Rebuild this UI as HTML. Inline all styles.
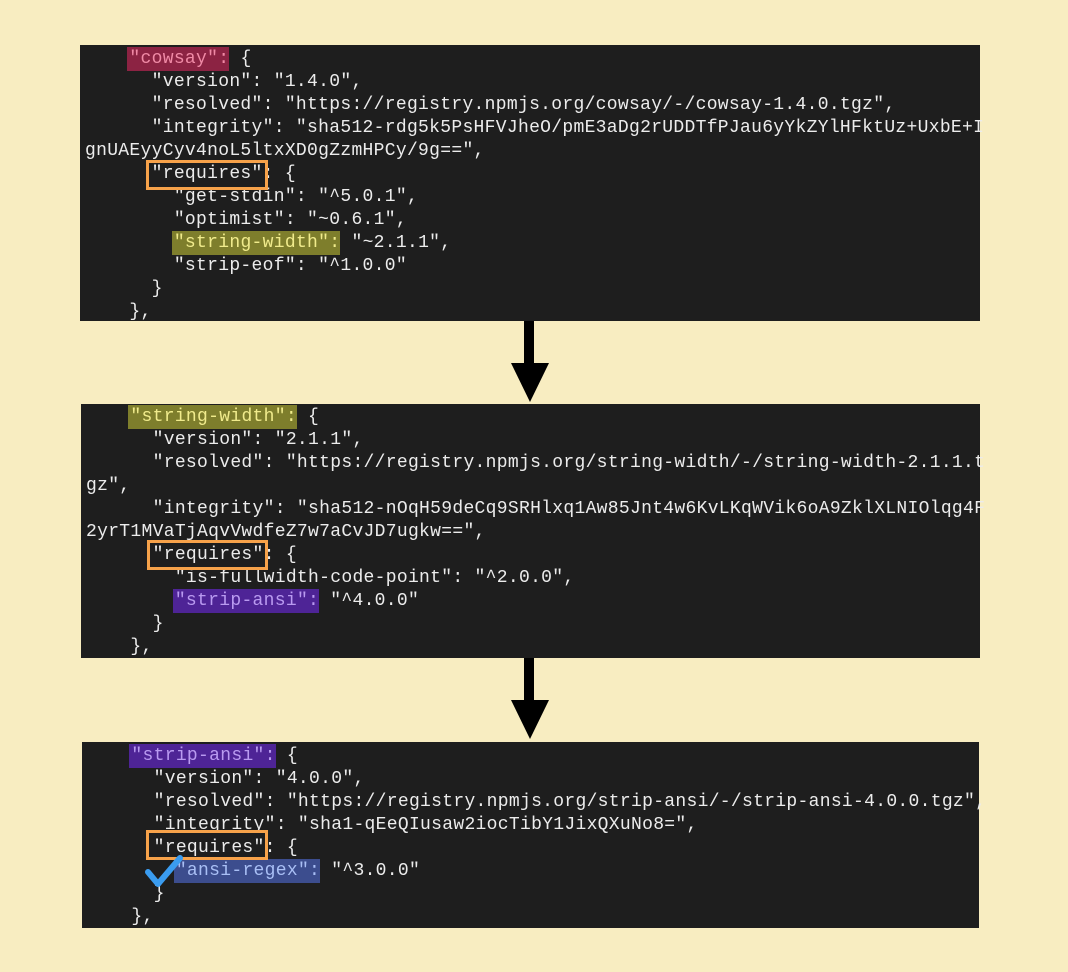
<!DOCTYPE html>
<html><head><style>
html,body{margin:0;padding:0}
body{width:1068px;height:972px;background:#f8edc1;position:relative;overflow:hidden;font-family:"Liberation Mono",monospace}
.p{position:absolute;background:#1e1e1e}
.l{position:absolute;left:5px;margin-top:3px;white-space:pre;color:#ececec;font-size:18px;letter-spacing:0.3px;line-height:23px;height:23px}
.hl{padding:2px 0 2px 2px;margin-left:-2px}
.c{background:#8c2343;color:#f08aa6}
.s{background:#7e7e2c;color:#f0eb8c}
.a{background:#4e2496;color:#b99af0}
.r{background:#3c4d8e;color:#a9bff5}
.ob{position:absolute;border:3px solid #f7a24a;box-sizing:border-box}
.sh{position:absolute;background:#000;width:10px}
.hd{position:absolute;width:0;height:0;border-left:19px solid transparent;border-right:19px solid transparent;border-top:39px solid #000}
</style></head><body>
<div class="p" style="left:80px;top:45px;width:900px;height:276px">
<div class="l" style="top:0px">    <span class="hl c">"cowsay":</span> {</div>
<div class="l" style="top:23px">      "version": "1.4.0",</div>
<div class="l" style="top:46px">      "resolved": "https://registry.npmjs.org/cowsay/-/cowsay-1.4.0.tgz",</div>
<div class="l" style="top:69px">      "integrity": "sha512-rdg5k5PsHFVJheO/pmE3aDg2rUDDTfPJau6yYkZYlHFktUz+UxbE+I</div>
<div class="l" style="top:92px">gnUAEyyCyv4noL5ltxXD0gZzmHPCy/9g==",</div>
<div class="l" style="top:115px">      "requires": {</div>
<div class="l" style="top:138px">        "get-stdin": "^5.0.1",</div>
<div class="l" style="top:161px">        "optimist": "~0.6.1",</div>
<div class="l" style="top:184px">        <span class="hl s">"string-width":</span> "~2.1.1",</div>
<div class="l" style="top:207px">        "strip-eof": "^1.0.0"</div>
<div class="l" style="top:230px">      }</div>
<div class="l" style="top:253px">    },</div>
</div>
<div class="ob" style="left:146px;top:160px;width:122px;height:30px"></div>
<div class="sh" style="left:524px;top:321px;height:44px"></div>
<div class="hd" style="left:511px;top:363px"></div>

<div class="p" style="left:81px;top:404px;width:899px;height:254px">
<div class="l" style="top:-1px">    <span class="hl s">"string-width":</span> {</div>
<div class="l" style="top:22px">      "version": "2.1.1",</div>
<div class="l" style="top:45px">      "resolved": "https://registry.npmjs.org/string-width/-/string-width-2.1.1.t</div>
<div class="l" style="top:68px">gz",</div>
<div class="l" style="top:91px">      "integrity": "sha512-nOqH59deCq9SRHlxq1Aw85Jnt4w6KvLKqWVik6oA9ZklXLNIOlqg4F</div>
<div class="l" style="top:114px">2yrT1MVaTjAqvVwdfeZ7w7aCvJD7ugkw==",</div>
<div class="l" style="top:137px">      "requires": {</div>
<div class="l" style="top:160px">        "is-fullwidth-code-point": "^2.0.0",</div>
<div class="l" style="top:183px">        <span class="hl a">"strip-ansi":</span> "^4.0.0"</div>
<div class="l" style="top:206px">      }</div>
<div class="l" style="top:229px">    },</div>
</div>
<div class="ob" style="left:147px;top:540px;width:121px;height:30px"></div>
<div class="sh" style="left:524px;top:658px;height:44px"></div>
<div class="hd" style="left:511px;top:700px"></div>

<div class="p" style="left:82px;top:742px;width:897px;height:186px">
<div class="l" style="top:0px">    <span class="hl a">"strip-ansi":</span> {</div>
<div class="l" style="top:23px">      "version": "4.0.0",</div>
<div class="l" style="top:46px">      "resolved": "https://registry.npmjs.org/strip-ansi/-/strip-ansi-4.0.0.tgz",</div>
<div class="l" style="top:69px">      "integrity": "sha1-qEeQIusaw2iocTibY1JixQXuNo8=",</div>
<div class="l" style="top:92px">      "requires": {</div>
<div class="l" style="top:115px">        <span class="hl r">"ansi-regex":</span> "^3.0.0"</div>
<div class="l" style="top:138px">      }</div>
<div class="l" style="top:161px">    },</div>
</div>
<div class="ob" style="left:146px;top:830px;width:122px;height:30px"></div>
<svg style="position:absolute;left:140px;top:852px" width="45" height="40"><path d="M8 20 L18 32 L40 6" fill="none" stroke="#3a9cf0" stroke-width="6" stroke-linecap="round" stroke-linejoin="round"/></svg>
</body></html>
